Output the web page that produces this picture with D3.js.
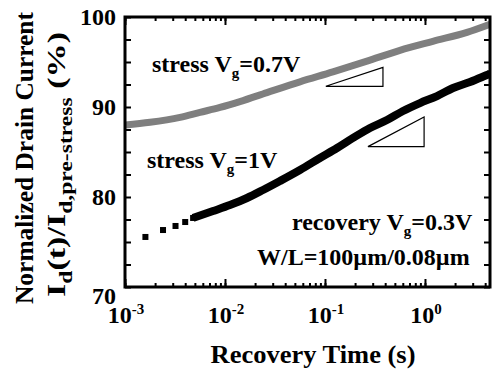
<!DOCTYPE html>
<html>
<head>
<meta charset="utf-8">
<script src="https://cdn.jsdelivr.net/npm/d3@7"></script>
<style>
  body { margin: 0; background: #fff; }
  text { font-family: "Liberation Serif", "Times New Roman", serif; font-weight: bold; fill: #000; }
</style>
</head>
<body>
<div id="chart"></div>
<script>
"use strict";

// recovery after stress Vg = 0.7V (gray trace)
const grayTime = [0.001, 0.00178, 0.00355, 0.00562, 0.00891, 0.0141, 0.0263, 0.0562, 0.120, 0.263, 0.562, 1.20, 2.63, 4.47];
const grayValue = [88.0, 88.3, 88.85, 89.4, 89.95, 90.6, 91.6, 92.8, 93.9, 95.1, 96.3, 97.3, 98.3, 99.2];

// recovery after stress Vg = 1V (black squares)
const blackTime = [0.0016, 0.0024, 0.0032, 0.0040, 0.0048, 0.00759, 0.0112, 0.0166, 0.0240, 0.0355, 0.0562, 0.0891,
    0.132, 0.191, 0.282, 0.417, 0.603, 0.891, 1.32, 1.91, 2.82, 4.17, 4.47];
const blackValue = [75.56, 76.33, 76.78, 77.22, 77.67, 78.44, 79.11, 79.89, 80.78, 81.78, 83.0, 84.33,
    85.44, 86.56, 87.67, 88.56, 89.56, 90.44, 91.22, 92.11, 92.78, 93.56, 93.7];

// slope triangles
const tri1Time = [0.102, 0.38, 0.38];
const tri1Value = [92.3, 92.3, 94.4];
const tri2Time = [0.269, 0.98, 0.98];
const tri2Value = [85.6, 85.6, 88.9];

const xMajor = [0.001, 0.01, 0.1, 1];
const xExponents = ["-3", "-2", "-1", "0"];
const yTicks = [70, 72.5, 75, 77.5, 80, 82.5, 85, 87.5, 90, 92.5, 95, 97.5, 100];
const yLabels = [70, 80, 90, 100];

const width = 497, height = 375;
const plotLeft = 125, plotRight = 490, plotTop = 17, plotBottom = 287;

let svg = d3.select("#chart")
    .append("svg")
    .attr("width", width)
    .attr("height", height);

let x = d3.scaleLog().domain([0.001, 4.47]).range([plotLeft, plotRight]);
let y = d3.scaleLinear().domain([70, 100]).range([plotBottom, plotTop]);

svg.append("clipPath").attr("id", "plot")
    .append("rect")
    .attr("x", plotLeft).attr("y", plotTop)
    .attr("width", plotRight - plotLeft).attr("height", plotBottom - plotTop);

// ticks (inward on all four sides)
let minorX = x.ticks();
function tickAxes(axisFn, scale, pos, values, size) {
    svg.append("g")
        .attr("transform", pos)
        .call(axisFn(scale).tickValues(values).tickSize(size).tickFormat(""))
        .call(g => g.select(".domain").remove())
        .call(g => g.selectAll("line").attr("stroke", "#000").attr("stroke-width", 2));
}
tickAxes(d3.axisBottom, x, `translate(0,${plotBottom})`, minorX, -4);
tickAxes(d3.axisBottom, x, `translate(0,${plotBottom})`, xMajor, -8);
tickAxes(d3.axisTop, x, `translate(0,${plotTop})`, minorX, -4);
tickAxes(d3.axisTop, x, `translate(0,${plotTop})`, xMajor, -8);
tickAxes(d3.axisLeft, y, `translate(${plotLeft},0)`, yTicks, -6);
tickAxes(d3.axisRight, y, `translate(${plotRight},0)`, yTicks, -6);

// gray trace
let line = d3.line().x(d => x(d[0])).y(d => y(d[1])).curve(d3.curveMonotoneX);
let plot = svg.append("g").attr("clip-path", "url(#plot)");

plot.append("path")
    .datum(grayTime.map((t, i) => [t, grayValue[i]]))
    .attr("d", line)
    .attr("fill", "none")
    .attr("stroke", "#7f7f7f")
    .attr("stroke-width", 7);

// black trace: dense part as band, plus square markers
let blackPts = blackTime.map((t, i) => [t, blackValue[i]]);
plot.append("path")
    .datum(blackPts.slice(4))
    .attr("d", line)
    .attr("fill", "none")
    .attr("stroke", "#000")
    .attr("stroke-width", 8);

plot.selectAll("rect.sq")
    .data(blackPts)
    .join("rect")
    .attr("class", "sq")
    .attr("x", d => x(d[0]) - 3)
    .attr("y", d => y(d[1]) - 3)
    .attr("width", 6)
    .attr("height", 6)
    .attr("fill", "#000");

// triangles
function triangle(ts, vs) {
    svg.append("polygon")
        .attr("points", ts.map((t, i) => `${x(t)},${y(vs[i])}`).join(" "))
        .attr("fill", "none")
        .attr("stroke", "#000")
        .attr("stroke-width", 1.2);
}
triangle(tri1Time, tri1Value);
triangle(tri2Time, tri2Value);

// frame
svg.append("rect")
    .attr("x", plotLeft).attr("y", plotTop)
    .attr("width", plotRight - plotLeft).attr("height", plotBottom - plotTop)
    .attr("fill", "none")
    .attr("stroke", "#000")
    .attr("stroke-width", 3);

// x tick labels
xMajor.forEach((v, i) => {
    let t = svg.append("text")
        .attr("x", x(v) + 1)
        .attr("y", 323)
        .attr("text-anchor", "middle")
        .attr("font-size", 24);
    t.append("tspan").text("10");
    t.append("tspan").attr("font-size", 15).attr("dy", -9).text(xExponents[i]);
});

// y tick labels
yLabels.forEach(v => {
    svg.append("text")
        .attr("x", 116)
        .attr("y", y(v) + 8 + (v === 70 ? 9 : 0))
        .attr("text-anchor", "end")
        .attr("font-size", 24)
        .text(v);
});

// axis titles
svg.append("text")
    .attr("x", 313)
    .attr("y", 363)
    .attr("text-anchor", "middle")
    .attr("font-size", 26)
    .attr("textLength", 205)
    .attr("lengthAdjust", "spacingAndGlyphs")
    .text("Recovery Time (s)");

svg.append("text")
    .attr("transform", "translate(33,304) rotate(-90)")
    .attr("font-size", 25)
    .attr("textLength", 292)
    .attr("lengthAdjust", "spacingAndGlyphs")
    .text("Normalized Drain Current");

let yl2 = svg.append("text")
    .attr("transform", "translate(65,297) rotate(-90)")
    .attr("font-size", 26)
    .attr("textLength", 265)
    .attr("lengthAdjust", "spacingAndGlyphs");
yl2.append("tspan").text("I");
yl2.append("tspan").attr("font-size", 18).attr("dy", 7).text("d");
yl2.append("tspan").attr("dy", -7).text("(t)/I");
yl2.append("tspan").attr("font-size", 18).attr("dy", 7).text("d,pre-stress");
yl2.append("tspan").attr("dy", -7).text(" (%)");

// annotations
function note(px, py, before, sub, after) {
    let t = svg.append("text").attr("x", px).attr("y", py).attr("font-size", 24);
    t.append("tspan").text(before);
    if (sub) {
        t.append("tspan").attr("font-size", 15).attr("dy", 6).text(sub);
        t.append("tspan").attr("dy", -6).text(after);
    }
}
note(152, 72, "stress V", "g", "=0.7V");
note(147, 168, "stress V", "g", "=1V");
note(292, 230, "recovery V", "g", "=0.3V");
note(257, 265, "W/L=100\u00b5m/0.08\u00b5m", null, null);
</script>
</body>
</html>
